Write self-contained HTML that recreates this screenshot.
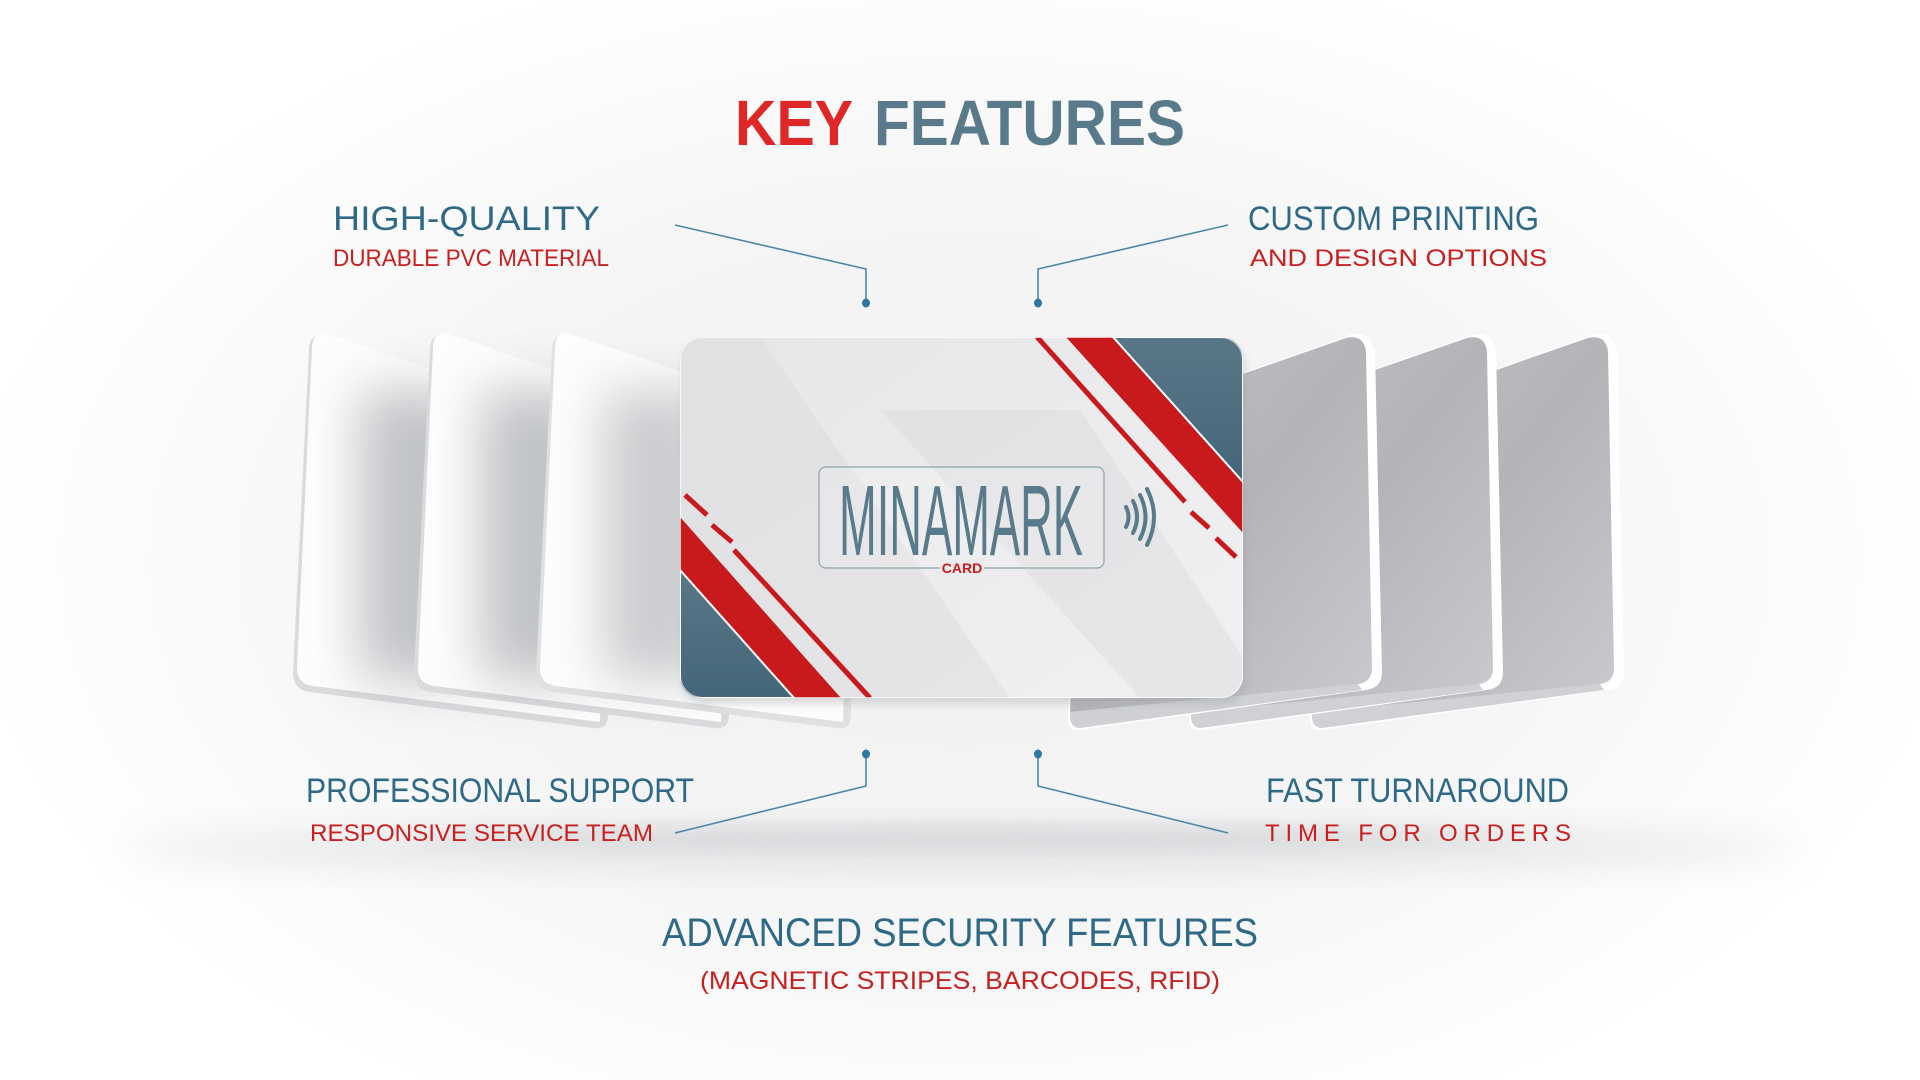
<!DOCTYPE html>
<html><head><meta charset="utf-8"><style>
html,body{margin:0;padding:0;width:1920px;height:1080px;overflow:hidden;background:#fff}
svg{display:block}
text{font-family:"Liberation Sans",sans-serif}
</style></head><body>
<svg width="1920" height="1080" viewBox="0 0 1920 1080" xmlns="http://www.w3.org/2000/svg">
<defs>
<radialGradient id="bg" cx="960" cy="560" r="1000" gradientUnits="userSpaceOnUse" gradientTransform="translate(960 560) scale(1 0.62) translate(-960 -560)">
<stop offset="0" stop-color="#f0f0f2"/><stop offset="0.55" stop-color="#f5f5f6"/><stop offset="1" stop-color="#ffffff"/>
</radialGradient>
<filter id="blur20" x="-50%" y="-50%" width="200%" height="200%"><feGaussianBlur stdDeviation="18"/></filter>
<filter id="blur28" x="-80%" y="-50%" width="260%" height="200%"><feGaussianBlur stdDeviation="26"/></filter>
<filter id="blur8" x="-50%" y="-50%" width="200%" height="200%"><feGaussianBlur stdDeviation="9"/></filter>
<filter id="sh" x="-20%" y="-20%" width="140%" height="140%"><feGaussianBlur stdDeviation="4"/></filter>
<linearGradient id="grayc" x1="0" y1="0" x2="1" y2="1"><stop offset="0" stop-color="#c4c6c9"/><stop offset="0.5" stop-color="#b2b4b8"/><stop offset="1" stop-color="#c9cbce"/></linearGradient>
<linearGradient id="mainc" x1="0" y1="0" x2="1" y2="1"><stop offset="0" stop-color="#e6e6e8"/><stop offset="1" stop-color="#f1f1f3"/></linearGradient>
<linearGradient id="blueg" x1="0" y1="0" x2="0" y2="1"><stop offset="0" stop-color="#5a7787"/><stop offset="1" stop-color="#44667a"/></linearGradient>
<clipPath id="cc"><rect x="0" y="0" width="563" height="361" rx="22"/></clipPath>
<linearGradient id="wline" x1="0" x2="1"><stop offset="0" stop-color="#587a8a" stop-opacity="0"/><stop offset="0.5" stop-color="#587a8a"/><stop offset="1" stop-color="#587a8a" stop-opacity="0"/></linearGradient>
</defs>
<rect width="1920" height="1080" fill="url(#bg)"/>
<ellipse cx="960" cy="848" rx="840" ry="20" fill="#cfd0d3" opacity="0.5" filter="url(#blur20)"/>
<ellipse cx="960" cy="838" rx="560" ry="10" fill="#c4c6c9" opacity="0.45" filter="url(#blur8)"/>

<!-- left cards -->
<g>
 <g>
  <path d="M322 335 Q309 335 309 350 L293 672 Q293 690 310 692 L593 728 Q608 730 608 715 L608 430 Z" fill="#d9dbdd"/>
  <path d="M325 333 Q312 333 312 348 L297 668 Q297 684 313 686 L600 722 L608 430 Z" fill="#fdfdfd"/>
  <rect x="360" y="390" width="110" height="290" fill="#9a9da2" opacity="0.6" filter="url(#blur28)"/>
 </g>
 <g transform="translate(121 0)">
  <path d="M322 335 Q309 335 309 350 L293 672 Q293 690 310 692 L593 728 Q608 730 608 715 L608 430 Z" fill="#d9dbdd"/>
  <path d="M325 333 Q312 333 312 348 L297 668 Q297 684 313 686 L600 722 L608 430 Z" fill="#fdfdfd"/>
  <rect x="360" y="390" width="110" height="290" fill="#9a9da2" opacity="0.6" filter="url(#blur28)"/>
 </g>
 <g transform="translate(243 0)">
  <path d="M322 335 Q309 335 309 350 L293 672 Q293 690 310 692 L593 728 Q608 730 608 715 L608 430 Z" fill="#dfe0e2"/>
  <path d="M325 333 Q312 333 312 348 L297 668 Q297 684 313 686 L600 722 L608 430 Z" fill="#fdfdfd"/>
  <rect x="360" y="390" width="110" height="290" fill="#9a9da2" opacity="0.5" filter="url(#blur28)"/>
 </g>
</g>

<!-- right cards -->
<g>
 <g transform="translate(242 0)">
  <path d="M1082 430 L1350 335 Q1370 330 1375 350 L1382 672 Q1382 688 1366 690 L1080 730 Q1068 732 1068 718 Z" fill="#ffffff"/>
  <path d="M1082 430 L1346 338 Q1364 334 1366 352 L1372 668 Q1372 682 1358 684 L1080 722 Q1070 724 1070 712 Z" fill="url(#grayc)"/>
  <path d="M1070 712 L1358 684 L1362 690 L1080 728 Q1070 728 1070 716 Z" fill="#cfd1d4"/>
 </g>
 <g transform="translate(121 0)">
  <path d="M1082 430 L1350 335 Q1370 330 1375 350 L1382 672 Q1382 688 1366 690 L1080 730 Q1068 732 1068 718 Z" fill="#ffffff"/>
  <path d="M1082 430 L1346 338 Q1364 334 1366 352 L1372 668 Q1372 682 1358 684 L1080 722 Q1070 724 1070 712 Z" fill="url(#grayc)"/>
  <path d="M1070 712 L1358 684 L1362 690 L1080 728 Q1070 728 1070 716 Z" fill="#cfd1d4"/>
 </g>
 <g>
  <path d="M1082 430 L1350 335 Q1370 330 1375 350 L1382 672 Q1382 688 1366 690 L1080 730 Q1068 732 1068 718 Z" fill="#ffffff"/>
  <path d="M1082 430 L1346 338 Q1364 334 1366 352 L1372 668 Q1372 682 1358 684 L1080 722 Q1070 724 1070 712 Z" fill="url(#grayc)"/>
  <path d="M1070 712 L1358 684 L1362 690 L1080 728 Q1070 728 1070 716 Z" fill="#cfd1d4"/>
 </g>
</g>

<!-- main card -->
<g transform="translate(680 337)">
 <rect x="2" y="6" width="563" height="361" rx="22" fill="#9a9ca0" opacity="0.35" filter="url(#sh)"/>
 <g clip-path="url(#cc)">
  <rect width="563" height="361" fill="url(#mainc)"/>
  <polygon points="0,0 80,0 330,361 0,361" fill="#dcdcde" opacity="0.5"/>
  <polygon points="200,73 400,73 563,320 563,361 460,361" fill="#dadadc" opacity="0.45"/>
  <polygon points="386,0 433,0 563,145 563,196" fill="#c81a1c"/>
  <polygon points="433,0 563,0 563,145" fill="url(#blueg)" stroke="#fff" stroke-width="2"/>
  <line x1="357" y1="0" x2="505" y2="165" stroke="#c81a1c" stroke-width="5"/>
  <line x1="511" y1="175" x2="529" y2="191" stroke="#c81a1c" stroke-width="5"/>
  <line x1="536" y1="201" x2="556" y2="220" stroke="#c81a1c" stroke-width="5"/>
  <polygon points="0,180 161,361 0,361" fill="#c81a1c"/>
  <polygon points="0,233 114,361 0,361" fill="url(#blueg)" stroke="#fff" stroke-width="2"/>
  <line x1="54" y1="213" x2="190" y2="361" stroke="#c81a1c" stroke-width="5"/>
  <line x1="5" y1="158" x2="27" y2="178" stroke="#c81a1c" stroke-width="5"/>
  <line x1="32" y1="188" x2="52" y2="205" stroke="#c81a1c" stroke-width="5"/>
 </g>
 <rect x="0.5" y="0.5" width="562" height="360" rx="22" fill="none" stroke="#ffffff" stroke-opacity="0.7"/>
 <rect x="139" y="130" width="285" height="101" rx="7" fill="#ffffff" fill-opacity="0.15" stroke="#8ea3ae" stroke-width="1.2"/>
 <text x="159" y="218" font-size="100" fill="#587a8a" textLength="244" lengthAdjust="spacingAndGlyphs" font-family="Liberation Sans Narrow, Liberation Sans, sans-serif">MINAMARK</text>
 <rect x="260" y="222" width="44" height="14" fill="#ebebed"/>
 <line x1="185" y1="231" x2="260" y2="231" stroke="url(#wline)" stroke-width="2"/>
 <line x1="304" y1="231" x2="380" y2="231" stroke="url(#wline)" stroke-width="2"/>
 <text x="282" y="236" font-size="14" font-weight="bold" fill="#c81a1c" text-anchor="middle">CARD</text>
 <g fill="none" stroke="#587a8a" stroke-width="4" stroke-linecap="round">
  <path d="M446 170 Q451 180 446 190"/>
  <path d="M453 164 Q461 180 453 196"/>
  <path d="M460 158 Q471 180 460 202"/>
  <path d="M467 152 Q481 180 467 208"/>
 </g>
</g>

<g fill="none" stroke="#4b87a8" stroke-width="1.6">
 <polyline points="675,225 866,269 866,302"/>
 <polyline points="1228,225 1038,269 1038,302"/>
 <polyline points="866,754 866,786 675,833"/>
 <polyline points="1038,754 1038,786 1228,833"/>
</g>
<g fill="#2f78a3">
 <ellipse cx="866" cy="303" rx="4" ry="4.5"/><ellipse cx="1038" cy="303" rx="4" ry="4.5"/>
 <ellipse cx="866" cy="754" rx="4" ry="4.5"/><ellipse cx="1038" cy="754" rx="4" ry="4.5"/>
</g>

<text x="735" y="145" font-size="64" font-weight="bold" fill="#e02727" textLength="118" lengthAdjust="spacingAndGlyphs">KEY</text>
<text x="874" y="145" font-size="64" font-weight="bold" fill="#587a8a" textLength="311" lengthAdjust="spacingAndGlyphs">FEATURES</text>

<g fill="#2e6a87" font-size="34">
 <text x="333" y="230" textLength="267" lengthAdjust="spacingAndGlyphs">HIGH-QUALITY</text>
 <text x="1248" y="230" textLength="291" lengthAdjust="spacingAndGlyphs">CUSTOM PRINTING</text>
 <text x="306" y="802" textLength="388" lengthAdjust="spacingAndGlyphs">PROFESSIONAL SUPPORT</text>
 <text x="1266" y="802" textLength="303" lengthAdjust="spacingAndGlyphs">FAST TURNAROUND</text>
 <text x="662" y="946" font-size="40" textLength="596" lengthAdjust="spacingAndGlyphs">ADVANCED SECURITY FEATURES</text>
</g>
<g fill="#c8201f" font-size="24">
 <text x="333" y="266" textLength="276" lengthAdjust="spacingAndGlyphs">DURABLE PVC MATERIAL</text>
 <text x="1250" y="266" textLength="297" lengthAdjust="spacingAndGlyphs">AND DESIGN OPTIONS</text>
 <text x="310" y="841" textLength="343" lengthAdjust="spacingAndGlyphs">RESPONSIVE SERVICE TEAM</text>
 <text x="1265" y="841" textLength="306" lengthAdjust="spacing">TIME FOR ORDERS</text>
 <text x="700" y="989" font-size="25" textLength="520" lengthAdjust="spacingAndGlyphs">(MAGNETIC STRIPES, BARCODES, RFID)</text>
</g>
</svg>
</body></html>
